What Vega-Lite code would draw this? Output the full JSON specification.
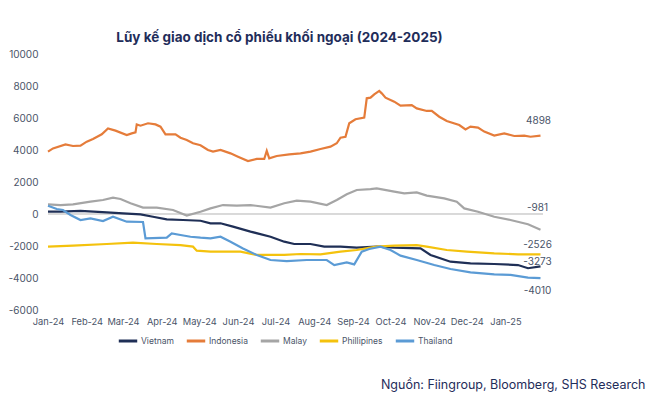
{
  "$schema": "https://vega.github.io/schema/vega-lite/v6.json",
  "width": 495,
  "height": 256,
  "autosize": {"type": "none"},
  "padding": {"left": 48, "top": 54, "right": 110, "bottom": 98},
  "background": "white",
  "config": {
    "font": "Inter",
    "view": {"stroke": null},
    "axis": {"grid": false, "domain": false, "ticks": false, "labelColor": "#4a5468", "labelFontSize": 10},
    "axisY": {"labelOverlap": false, "labelSeparation": 0}
  },
  "title": {
    "text": "Lũy kế giao dịch cổ phiếu khối ngoại (2024-2025)",
    "fontSize": 13.5,
    "fontWeight": "bold",
    "color": "#1f2d5a",
    "anchor": "middle",
    "frame": "group",
    "dx": -16,
    "offset": 5
  },
  "datasets": {
    "series": [
      {"series":"Indonesia","date":"2024-01-01","value":3900},
      {"series":"Indonesia","date":"2024-01-05","value":4100},
      {"series":"Indonesia","date":"2024-01-15","value":4350},
      {"series":"Indonesia","date":"2024-01-21","value":4250},
      {"series":"Indonesia","date":"2024-01-27","value":4270},
      {"series":"Indonesia","date":"2024-02-01","value":4520},
      {"series":"Indonesia","date":"2024-02-06","value":4690},
      {"series":"Indonesia","date":"2024-02-13","value":4980},
      {"series":"Indonesia","date":"2024-02-18","value":5350},
      {"series":"Indonesia","date":"2024-02-24","value":5210},
      {"series":"Indonesia","date":"2024-03-04","value":4940},
      {"series":"Indonesia","date":"2024-03-08","value":5040},
      {"series":"Indonesia","date":"2024-03-11","value":5100},
      {"series":"Indonesia","date":"2024-03-12","value":5600},
      {"series":"Indonesia","date":"2024-03-15","value":5520},
      {"series":"Indonesia","date":"2024-03-21","value":5670},
      {"series":"Indonesia","date":"2024-03-27","value":5600},
      {"series":"Indonesia","date":"2024-03-31","value":5460},
      {"series":"Indonesia","date":"2024-04-04","value":4980},
      {"series":"Indonesia","date":"2024-04-12","value":4980},
      {"series":"Indonesia","date":"2024-04-16","value":4770},
      {"series":"Indonesia","date":"2024-04-21","value":4625},
      {"series":"Indonesia","date":"2024-04-26","value":4420},
      {"series":"Indonesia","date":"2024-05-02","value":4300},
      {"series":"Indonesia","date":"2024-05-08","value":4000},
      {"series":"Indonesia","date":"2024-05-12","value":3900},
      {"series":"Indonesia","date":"2024-05-18","value":4000},
      {"series":"Indonesia","date":"2024-05-26","value":3790},
      {"series":"Indonesia","date":"2024-06-01","value":3580},
      {"series":"Indonesia","date":"2024-06-09","value":3310},
      {"series":"Indonesia","date":"2024-06-16","value":3440},
      {"series":"Indonesia","date":"2024-06-22","value":3440},
      {"series":"Indonesia","date":"2024-06-24","value":3950},
      {"series":"Indonesia","date":"2024-06-26","value":3480},
      {"series":"Indonesia","date":"2024-07-02","value":3625},
      {"series":"Indonesia","date":"2024-07-12","value":3730},
      {"series":"Indonesia","date":"2024-07-21","value":3790},
      {"series":"Indonesia","date":"2024-07-29","value":3900},
      {"series":"Indonesia","date":"2024-08-06","value":4060},
      {"series":"Indonesia","date":"2024-08-14","value":4210},
      {"series":"Indonesia","date":"2024-08-19","value":4420},
      {"series":"Indonesia","date":"2024-08-22","value":4770},
      {"series":"Indonesia","date":"2024-08-26","value":4830},
      {"series":"Indonesia","date":"2024-08-29","value":5670},
      {"series":"Indonesia","date":"2024-09-03","value":5920},
      {"series":"Indonesia","date":"2024-09-10","value":6020},
      {"series":"Indonesia","date":"2024-09-12","value":7230},
      {"series":"Indonesia","date":"2024-09-15","value":7270},
      {"series":"Indonesia","date":"2024-09-18","value":7480},
      {"series":"Indonesia","date":"2024-09-22","value":7690},
      {"series":"Indonesia","date":"2024-09-24","value":7540},
      {"series":"Indonesia","date":"2024-09-27","value":7270},
      {"series":"Indonesia","date":"2024-10-04","value":7020},
      {"series":"Indonesia","date":"2024-10-09","value":6770},
      {"series":"Indonesia","date":"2024-10-18","value":6810},
      {"series":"Indonesia","date":"2024-10-22","value":6600},
      {"series":"Indonesia","date":"2024-10-30","value":6440},
      {"series":"Indonesia","date":"2024-11-03","value":6440},
      {"series":"Indonesia","date":"2024-11-09","value":6080},
      {"series":"Indonesia","date":"2024-11-15","value":5810},
      {"series":"Indonesia","date":"2024-11-25","value":5560},
      {"series":"Indonesia","date":"2024-11-30","value":5290},
      {"series":"Indonesia","date":"2024-12-04","value":5460},
      {"series":"Indonesia","date":"2024-12-10","value":5400},
      {"series":"Indonesia","date":"2024-12-15","value":5150},
      {"series":"Indonesia","date":"2024-12-23","value":4900},
      {"series":"Indonesia","date":"2024-12-31","value":5040},
      {"series":"Indonesia","date":"2025-01-08","value":4875},
      {"series":"Indonesia","date":"2025-01-16","value":4900},
      {"series":"Indonesia","date":"2025-01-21","value":4830},
      {"series":"Indonesia","date":"2025-01-29","value":4898},

      {"series":"Malay","date":"2024-01-01","value":600},
      {"series":"Malay","date":"2024-01-11","value":560},
      {"series":"Malay","date":"2024-01-21","value":600},
      {"series":"Malay","date":"2024-02-04","value":770},
      {"series":"Malay","date":"2024-02-14","value":875},
      {"series":"Malay","date":"2024-02-22","value":1020},
      {"series":"Malay","date":"2024-02-28","value":940},
      {"series":"Malay","date":"2024-03-07","value":670},
      {"series":"Malay","date":"2024-03-17","value":400},
      {"series":"Malay","date":"2024-03-28","value":400},
      {"series":"Malay","date":"2024-04-10","value":250},
      {"series":"Malay","date":"2024-04-21","value":-100},
      {"series":"Malay","date":"2024-05-02","value":140},
      {"series":"Malay","date":"2024-05-10","value":350},
      {"series":"Malay","date":"2024-05-20","value":560},
      {"series":"Malay","date":"2024-05-31","value":520},
      {"series":"Malay","date":"2024-06-11","value":560},
      {"series":"Malay","date":"2024-06-27","value":400},
      {"series":"Malay","date":"2024-07-08","value":670},
      {"series":"Malay","date":"2024-07-18","value":830},
      {"series":"Malay","date":"2024-07-29","value":770},
      {"series":"Malay","date":"2024-08-11","value":560},
      {"series":"Malay","date":"2024-08-19","value":875},
      {"series":"Malay","date":"2024-08-27","value":1230},
      {"series":"Malay","date":"2024-09-04","value":1500},
      {"series":"Malay","date":"2024-09-15","value":1560},
      {"series":"Malay","date":"2024-09-20","value":1600},
      {"series":"Malay","date":"2024-10-04","value":1400},
      {"series":"Malay","date":"2024-10-12","value":1290},
      {"series":"Malay","date":"2024-10-22","value":1350},
      {"series":"Malay","date":"2024-10-30","value":1150},
      {"series":"Malay","date":"2024-11-13","value":980},
      {"series":"Malay","date":"2024-11-23","value":770},
      {"series":"Malay","date":"2024-11-29","value":350},
      {"series":"Malay","date":"2024-12-10","value":140},
      {"series":"Malay","date":"2024-12-23","value":-170},
      {"series":"Malay","date":"2025-01-05","value":-375},
      {"series":"Malay","date":"2025-01-19","value":-640},
      {"series":"Malay","date":"2025-01-29","value":-981},

      {"series":"Vietnam","date":"2024-01-01","value":150},
      {"series":"Vietnam","date":"2024-01-11","value":150},
      {"series":"Vietnam","date":"2024-01-27","value":190},
      {"series":"Vietnam","date":"2024-02-17","value":100},
      {"series":"Vietnam","date":"2024-03-01","value":40},
      {"series":"Vietnam","date":"2024-03-15","value":-20},
      {"series":"Vietnam","date":"2024-03-25","value":-170},
      {"series":"Vietnam","date":"2024-04-05","value":-330},
      {"series":"Vietnam","date":"2024-04-18","value":-375},
      {"series":"Vietnam","date":"2024-05-02","value":-420},
      {"series":"Vietnam","date":"2024-05-10","value":-580},
      {"series":"Vietnam","date":"2024-05-18","value":-580},
      {"series":"Vietnam","date":"2024-05-28","value":-790},
      {"series":"Vietnam","date":"2024-06-11","value":-1100},
      {"series":"Vietnam","date":"2024-06-27","value":-1420},
      {"series":"Vietnam","date":"2024-07-08","value":-1730},
      {"series":"Vietnam","date":"2024-07-16","value":-1875},
      {"series":"Vietnam","date":"2024-07-29","value":-1875},
      {"series":"Vietnam","date":"2024-08-09","value":-2040},
      {"series":"Vietnam","date":"2024-08-22","value":-2040},
      {"series":"Vietnam","date":"2024-09-04","value":-2100},
      {"series":"Vietnam","date":"2024-09-20","value":-2040},
      {"series":"Vietnam","date":"2024-10-04","value":-2100},
      {"series":"Vietnam","date":"2024-10-25","value":-2150},
      {"series":"Vietnam","date":"2024-11-02","value":-2560},
      {"series":"Vietnam","date":"2024-11-18","value":-2980},
      {"series":"Vietnam","date":"2024-12-04","value":-3080},
      {"series":"Vietnam","date":"2024-12-23","value":-3125},
      {"series":"Vietnam","date":"2025-01-11","value":-3190},
      {"series":"Vietnam","date":"2025-01-19","value":-3390},
      {"series":"Vietnam","date":"2025-01-29","value":-3273},

      {"series":"Phillipines","date":"2024-01-01","value":-2040},
      {"series":"Phillipines","date":"2024-01-21","value":-1980},
      {"series":"Phillipines","date":"2024-02-17","value":-1875},
      {"series":"Phillipines","date":"2024-03-09","value":-1790},
      {"series":"Phillipines","date":"2024-03-28","value":-1875},
      {"series":"Phillipines","date":"2024-04-16","value":-1940},
      {"series":"Phillipines","date":"2024-04-26","value":-2040},
      {"series":"Phillipines","date":"2024-04-29","value":-2290},
      {"series":"Phillipines","date":"2024-05-10","value":-2350},
      {"series":"Phillipines","date":"2024-06-03","value":-2350},
      {"series":"Phillipines","date":"2024-06-16","value":-2560},
      {"series":"Phillipines","date":"2024-07-08","value":-2560},
      {"series":"Phillipines","date":"2024-07-21","value":-2500},
      {"series":"Phillipines","date":"2024-08-06","value":-2520},
      {"series":"Phillipines","date":"2024-08-22","value":-2350},
      {"series":"Phillipines","date":"2024-09-04","value":-2250},
      {"series":"Phillipines","date":"2024-09-15","value":-2100},
      {"series":"Phillipines","date":"2024-09-20","value":-2040},
      {"series":"Phillipines","date":"2024-10-04","value":-1980},
      {"series":"Phillipines","date":"2024-10-22","value":-1940},
      {"series":"Phillipines","date":"2024-10-30","value":-2040},
      {"series":"Phillipines","date":"2024-11-15","value":-2250},
      {"series":"Phillipines","date":"2024-12-01","value":-2350},
      {"series":"Phillipines","date":"2024-12-23","value":-2460},
      {"series":"Phillipines","date":"2025-01-11","value":-2520},
      {"series":"Phillipines","date":"2025-01-29","value":-2526},

      {"series":"Thailand","date":"2024-01-01","value":520},
      {"series":"Thailand","date":"2024-01-08","value":310},
      {"series":"Thailand","date":"2024-01-13","value":250},
      {"series":"Thailand","date":"2024-01-19","value":-60},
      {"series":"Thailand","date":"2024-01-27","value":-375},
      {"series":"Thailand","date":"2024-02-04","value":-270},
      {"series":"Thailand","date":"2024-02-14","value":-440},
      {"series":"Thailand","date":"2024-02-22","value":-170},
      {"series":"Thailand","date":"2024-03-04","value":-480},
      {"series":"Thailand","date":"2024-03-17","value":-500},
      {"series":"Thailand","date":"2024-03-19","value":-1520},
      {"series":"Thailand","date":"2024-04-05","value":-1480},
      {"series":"Thailand","date":"2024-04-09","value":-1210},
      {"series":"Thailand","date":"2024-04-16","value":-1310},
      {"series":"Thailand","date":"2024-04-24","value":-1420},
      {"series":"Thailand","date":"2024-05-02","value":-1480},
      {"series":"Thailand","date":"2024-05-10","value":-1520},
      {"series":"Thailand","date":"2024-05-18","value":-1420},
      {"series":"Thailand","date":"2024-05-26","value":-1730},
      {"series":"Thailand","date":"2024-06-05","value":-2150},
      {"series":"Thailand","date":"2024-06-16","value":-2560},
      {"series":"Thailand","date":"2024-06-27","value":-2875},
      {"series":"Thailand","date":"2024-07-10","value":-2940},
      {"series":"Thailand","date":"2024-07-26","value":-2875},
      {"series":"Thailand","date":"2024-08-11","value":-2875},
      {"series":"Thailand","date":"2024-08-17","value":-3190},
      {"series":"Thailand","date":"2024-08-27","value":-3020},
      {"series":"Thailand","date":"2024-09-02","value":-3150},
      {"series":"Thailand","date":"2024-09-08","value":-2350},
      {"series":"Thailand","date":"2024-09-14","value":-2190},
      {"series":"Thailand","date":"2024-09-23","value":-2040},
      {"series":"Thailand","date":"2024-10-01","value":-2250},
      {"series":"Thailand","date":"2024-10-09","value":-2600},
      {"series":"Thailand","date":"2024-10-22","value":-2875},
      {"series":"Thailand","date":"2024-11-05","value":-3190},
      {"series":"Thailand","date":"2024-11-18","value":-3440},
      {"series":"Thailand","date":"2024-12-04","value":-3650},
      {"series":"Thailand","date":"2024-12-23","value":-3770},
      {"series":"Thailand","date":"2025-01-05","value":-3810},
      {"series":"Thailand","date":"2025-01-19","value":-3980},
      {"series":"Thailand","date":"2025-01-29","value":-4010}
    ],
    "ends": [
      {"series":"Indonesia","date":"2025-01-29","value":4898},
      {"series":"Malay","date":"2025-01-29","value":-981},
      {"series":"Phillipines","date":"2025-01-29","value":-2526},
      {"series":"Vietnam","date":"2025-01-29","value":-3273},
      {"series":"Thailand","date":"2025-01-29","value":-4010}
    ]
  },
  "data": {"name": "series"},
  "layer": [
    {
      "mark": {"type": "rule", "color": "#d9d9d9", "strokeWidth": 1},
      "encoding": {
        "y": {
          "datum": 0,
          "type": "quantitative",
          "scale": {"domain": [-6000, 10000], "nice": false},
          "axis": {"values": [-6000, -4000, -2000, 0, 2000, 4000, 6000, 8000, 10000], "labelExpr": "replace(format(datum.value, 'd'), '\u2212', '-')", "labelOverlap": false, "labelSeparation": 0, "labelPadding": 10, "title": null}
        }
      }
    },
    {
      "mark": {"type": "line", "strokeWidth": 2.2},
      "encoding": {
        "x": {
          "field": "date",
          "type": "temporal",
          "scale": {"type": "utc", "domain": ["2024-01-01", "2025-01-31"]},
          "axis": {
            "format": "%b-%y",
            "tickCount": {"interval": "month", "step": 1},
            "labelOverlap": false,
            "labelFlush": false,
            "labelFontSize": 9.3,
            "labelPadding": 7,
            "title": "Nguồn: Fiingroup, Bloomberg, SHS Research",
            "titleFontSize": 12.5,
            "titleFontWeight": "normal",
            "titleColor": "#1f2d5a",
            "titleAlign": "right",
            "titleBaseline": "middle",
            "titleX": 597,
            "titleY": 74
          }
        },
        "y": {
          "field": "value",
          "type": "quantitative",
          "scale": {"domain": [-6000, 10000], "nice": false},
          "axis": {"values": [-6000, -4000, -2000, 0, 2000, 4000, 6000, 8000, 10000], "labelExpr": "replace(format(datum.value, 'd'), '\u2212', '-')", "labelOverlap": false, "labelSeparation": 0, "labelPadding": 10, "title": null}
        },
        "color": {
          "field": "series",
          "type": "nominal",
          "sort": ["Vietnam", "Indonesia", "Malay", "Phillipines", "Thailand"],
          "scale": {"domain": ["Vietnam", "Indonesia", "Malay", "Phillipines", "Thailand"], "range": ["#1f2f56", "#e57c3a", "#a5a5a5", "#f4c20d", "#5b9bd5"]},
          "legend": {
            "orient": "none",
            "legendX": 69,
            "legendY": 276,
            "direction": "horizontal",
            "title": null,
            "symbolType": "stroke",
            "symbolSize": 340,
            "symbolStrokeWidth": 3,
            "labelFontSize": 8.5,
            "labelColor": "#4a5468",
            "labelOffset": 2,
            "columnPadding": 6
          }
        }
      }
    },
    {
      "data": {"name": "ends"},
      "transform": [{"filter": "datum.series == 'Indonesia'"}],
      "mark": {"type": "text", "dy": -15, "dx": -2, "fontSize": 10, "color": "#4a5468"},
      "encoding": {"x": {"field": "date", "type": "temporal"}, "y": {"field": "value", "type": "quantitative", "axis": {"values": [-6000, -4000, -2000, 0, 2000, 4000, 6000, 8000, 10000], "labelExpr": "replace(format(datum.value, 'd'), '\u2212', '-')", "labelOverlap": false, "labelSeparation": 0, "labelPadding": 10, "title": null}}, "text": {"field": "value", "type": "nominal"}}
    },
    {
      "data": {"name": "ends"},
      "transform": [{"filter": "datum.series == 'Malay'"}],
      "mark": {"type": "text", "dy": -22, "dx": -3, "fontSize": 10, "color": "#4a5468"},
      "encoding": {"x": {"field": "date", "type": "temporal"}, "y": {"field": "value", "type": "quantitative", "axis": {"values": [-6000, -4000, -2000, 0, 2000, 4000, 6000, 8000, 10000], "labelExpr": "replace(format(datum.value, 'd'), '\u2212', '-')", "labelOverlap": false, "labelSeparation": 0, "labelPadding": 10, "title": null}}, "text": {"field": "value", "type": "nominal"}}
    },
    {
      "data": {"name": "ends"},
      "transform": [{"filter": "datum.series == 'Phillipines'"}],
      "mark": {"type": "text", "dy": -9, "dx": -3, "fontSize": 10, "color": "#4a5468"},
      "encoding": {"x": {"field": "date", "type": "temporal"}, "y": {"field": "value", "type": "quantitative", "axis": {"values": [-6000, -4000, -2000, 0, 2000, 4000, 6000, 8000, 10000], "labelExpr": "replace(format(datum.value, 'd'), '\u2212', '-')", "labelOverlap": false, "labelSeparation": 0, "labelPadding": 10, "title": null}}, "text": {"field": "value", "type": "nominal"}}
    },
    {
      "data": {"name": "ends"},
      "transform": [{"filter": "datum.series == 'Vietnam'"}],
      "mark": {"type": "text", "dy": -4, "dx": -3, "fontSize": 10, "color": "#4a5468"},
      "encoding": {"x": {"field": "date", "type": "temporal"}, "y": {"field": "value", "type": "quantitative", "axis": {"values": [-6000, -4000, -2000, 0, 2000, 4000, 6000, 8000, 10000], "labelExpr": "replace(format(datum.value, 'd'), '\u2212', '-')", "labelOverlap": false, "labelSeparation": 0, "labelPadding": 10, "title": null}}, "text": {"field": "value", "type": "nominal"}}
    },
    {
      "data": {"name": "ends"},
      "transform": [{"filter": "datum.series == 'Thailand'"}],
      "mark": {"type": "text", "dy": 13, "dx": -3, "fontSize": 10, "color": "#4a5468"},
      "encoding": {"x": {"field": "date", "type": "temporal"}, "y": {"field": "value", "type": "quantitative", "axis": {"values": [-6000, -4000, -2000, 0, 2000, 4000, 6000, 8000, 10000], "labelExpr": "replace(format(datum.value, 'd'), '\u2212', '-')", "labelOverlap": false, "labelSeparation": 0, "labelPadding": 10, "title": null}}, "text": {"field": "value", "type": "nominal"}}
    }
  ]
}
